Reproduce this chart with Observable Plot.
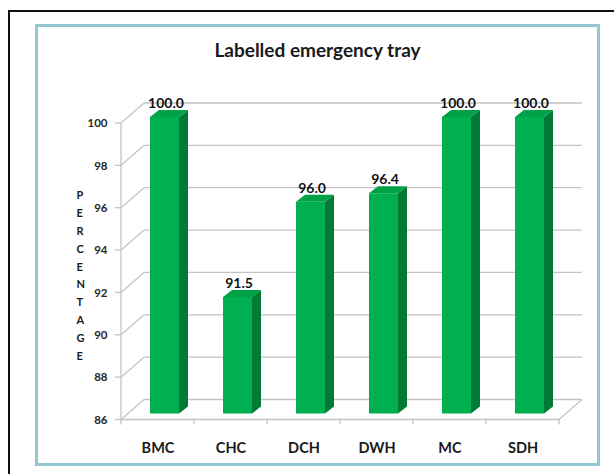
<!DOCTYPE html>
<html><head><meta charset="utf-8">
<script src="https://cdn.jsdelivr.net/npm/d3@7"></script>
<script src="https://cdn.jsdelivr.net/npm/@observablehq/plot@0.6"></script>
<style>
html,body{margin:0;padding:0;background:#fff;width:614px;height:474px;overflow:hidden;font-family:Lato,sans-serif}
#outer{position:absolute;left:8px;top:10px;width:640px;height:500px;border-left:2px solid #111;border-top:2px solid #111;}
#inner{position:absolute;left:35px;top:24px;width:565px;height:442px;box-sizing:border-box;border:3px solid #93c7d1;}
#title{position:absolute;left:38px;width:559px;top:38px;line-height:19px;text-align:center;font:bold 19px Lato,sans-serif;color:#1a1a1a;}
#chart{position:absolute;left:38px;top:62px;}
#chart svg{background:transparent;overflow:visible}
#chart g[aria-label^="x-axis"] text{font:bold 14.5px Lato,sans-serif;fill:#1a1a1a}
#chart g[aria-label^="y-axis"] text{font:bold 11.5px Lato,sans-serif;fill:#262626}
</style></head>
<body>
<div id="outer"></div>
<div id="inner"></div>
<div id="title"></div>
<div id="chart"></div>
<script>
const title = "Labelled emergency tray";
const yLabel = "PERCENTAGE";
const categories = ["BMC", "CHC", "DCH", "DWH", "MC", "SDH"];
const values = [100.0, 91.5, 96.0, 96.4, 100.0, 100.0];
const yTicks = [86, 88, 90, 92, 94, 96, 98, 100];

const data = categories.map((c, i) => ({category: c, value: values[i]}));
const BASE = yTicks[0];
const WALL = [23, -20];   // back wall depth offset (px)
const FRONT = [7, -6];    // bar front plane offset
const BACK = [16, -13];   // bar back plane offset
const C = {front: "#00b050", side: "#007a35", top: "#00a147", grid: "#c4c4c4"};

document.getElementById("title").textContent = title;

function bandInfo(x) {
  const step = x(categories[1]) - x(categories[0]);
  const bw = typeof x.bandwidth === "function" ? x.bandwidth() : (typeof x.bandwidth === "number" ? x.bandwidth : step * 0.4);
  return {step, bw};
}

function walls(index, scales, vals, dims) {
  const {x, y} = scales;
  const {step, bw} = bandInfo(x);
  const x0 = x(categories[0]) + bw / 2 - step / 2;
  const x1 = x(categories[categories.length - 1]) + bw / 2 + step / 2;
  const yb = y(BASE);
  const [dx, dy] = WALL;
  const g = d3.create("svg:g").attr("fill", "none").attr("stroke", C.grid).attr("stroke-width", 1.3);
  const seg = (a, b, c, d) => g.append("line").attr("x1", a).attr("y1", b).attr("x2", c).attr("y2", d);
  yTicks.forEach(t => {
    seg(x0 + dx, y(t) + dy, x1 + dx, y(t) + dy);
    seg(x0, y(t), x0 + dx, y(t) + dy);
    seg(x0 - 6, y(t), x0, y(t));
  });
  seg(x0, y(yTicks[yTicks.length - 1]), x0, yb);
  seg(x0, yb, x1, yb);
  seg(x1, yb, x1 + dx, yb + dy);
  for (let i = 0; i <= categories.length; i++) {
    const xb = x0 + i * step;
    seg(xb, yb, xb, yb + 5);
  }
  return g.node();
}

function barFaces(index, scales) {
  const {x, y} = scales;
  const {bw} = bandInfo(x);
  const g = d3.create("svg:g");
  const poly = (pts, fill) => g.append("polygon").attr("points", pts.map(p => p.join(",")).join(" ")).attr("fill", fill);
  data.forEach(d => {
    const xl = x(d.category), xr = xl + bw, yt = y(d.value), yb = y(BASE);
    poly([[xr + FRONT[0], yt + FRONT[1]], [xr + BACK[0], yt + BACK[1]], [xr + BACK[0], yb + BACK[1]], [xr + FRONT[0], yb + FRONT[1]]], C.side);
    poly([[xl + FRONT[0], yt + FRONT[1]], [xr + FRONT[0], yt + FRONT[1]], [xr + BACK[0], yt + BACK[1]], [xl + BACK[0], yt + BACK[1]]], C.top);
  });
  return g.node();
}

const chart = Plot.plot({
  width: 558,
  height: 401,
  marginLeft: 83,
  marginRight: 37,
  marginTop: 61,
  marginBottom: 43.5,
  style: {fontFamily: "Lato, sans-serif", color: "#1a1a1a", background: "transparent"},
  x: {domain: categories, paddingInner: 0.6, paddingOuter: 0.3, tickSize: 0, tickPadding: 23, label: null},
  y: {domain: [BASE, yTicks[yTicks.length - 1]], ticks: yTicks, tickSize: 0, tickPadding: 14, label: null},
  marks: [
    walls,
    barFaces,
    Plot.barY(data, {x: "category", y1: d => BASE, y2: "value", fill: C.front, dx: FRONT[0], dy: FRONT[1]}),
    Plot.text(data, {x: "category", y: "value", text: d => d.value.toFixed(1), dx: FRONT[0] + 1, dy: -20, fontSize: 14, fontWeight: "bold", fill: "#111"}),
    Plot.text([yLabel], {text: d => d.split("").join("\n"), frameAnchor: "left", dx: -45, dy: 2, lineHeight: 1.62, fontSize: 11, fontWeight: "bold", fill: "#1a1a1a"})
  ]
});
document.getElementById("chart").appendChild(chart);
</script>
</body></html>
